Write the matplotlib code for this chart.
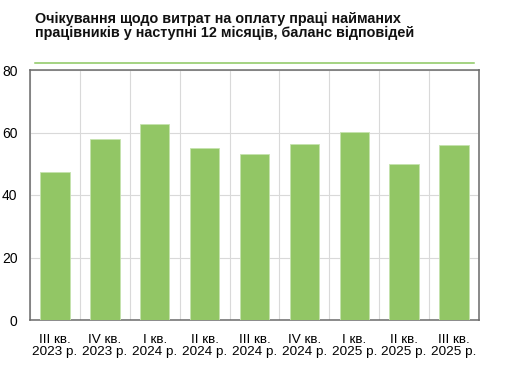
import matplotlib
matplotlib.use("Agg")
from matplotlib import pyplot as plt
from matplotlib.lines import Line2D
import numpy as np

plt.rcParams['font.family'] = ['Liberation Sans', 'DejaVu Sans']

# data
quarters = ["III кв.\n2023 р.", "IV кв.\n2023 р.", "I кв.\n2024 р.",
            "II кв.\n2024 р.", "III кв.\n2024 р.", "IV кв.\n2024 р.",
            "I кв.\n2025 р.", "II кв.\n2025 р.", "III кв.\n2025 р."]
balance = [47.4, 57.9, 62.6, 54.9, 53.1, 56.4, 60.2, 50.0, 55.9]
yticks = [0, 20, 40, 60, 80]

title = ("Очікування щодо витрат на оплату праці найманих\n"
         "працівників у наступні 12 місяців, баланс відповідей")

bar_color = "#92c665"
grid_color = "#d9d9d9"

fig = plt.figure(figsize=(5.1, 3.82), dpi=100)
ax = fig.add_axes([30/510, 1-320/382, 449/510, 250/382])

x = np.arange(len(balance))
ax.bar(x, balance, width=0.59, color=bar_color, edgecolor="#c5e3ae",
       linewidth=0.6, zorder=3)

ax.set_xlim(-0.5, len(balance) - 0.5)
ax.set_ylim(0, 80)
ax.set_yticks(yticks)
ax.set_yticklabels([str(t) for t in yticks], fontsize=10)

# category boundaries as vertical grid lines
ax.set_xticks(np.arange(len(balance) + 1) - 0.5, minor=True)
ax.set_xticks(x)
ax.set_xticklabels(quarters, fontsize=9.7, linespacing=1.05)
ax.tick_params(axis="x", which="both", length=0, pad=10)
ax.tick_params(axis="y", length=0, pad=9)
ax.grid(axis="x", which="minor", color=grid_color, linewidth=0.8, zorder=0)
ax.grid(axis="y", which="major", color=grid_color, linewidth=0.8, zorder=0)

for side in ["left", "bottom", "top"]:
    ax.spines[side].set_color("#6b6b6b")
    ax.spines[side].set_linewidth(1.1)
ax.spines["right"].set_color("#7f7f7f")
ax.spines["right"].set_linewidth(1.3)

# title and green rule above the plot
fig.text(35/510, 1-12/382, title, fontsize=10.4, fontweight="bold",
         va="top", ha="left", linespacing=1.0, color="#111111")
fig.add_artist(Line2D([35/510, 474/510], [1-62.7/382, 1-62.7/382],
                      color="#8cc860", linewidth=1.1))

fig.savefig("out.png", dpi=100)
